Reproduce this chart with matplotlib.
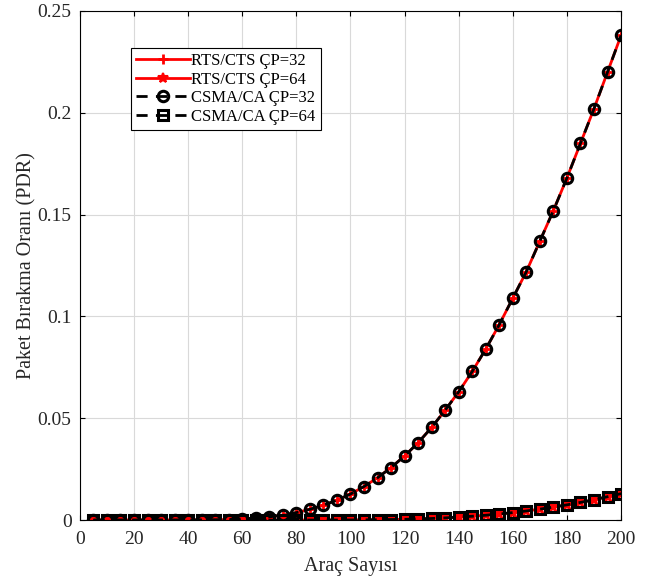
import numpy as np
import matplotlib
matplotlib.use("Agg")
import matplotlib.pyplot as plt

# vehicle counts
arac = list(range(5, 205, 5))

# PDR, CP=32 (RTS/CTS and CSMA/CA overlap)
pdr_32 = [0, 0, 0, 0, 0, 0, 0.00001, 0.00003, 0.00007, 0.00015,
          0.0003, 0.0006, 0.001, 0.0016, 0.0025, 0.0037, 0.0053, 0.0073, 0.0098, 0.0128,
          0.0165, 0.0208, 0.0258, 0.0315, 0.038, 0.0455, 0.054, 0.063, 0.073, 0.084,
          0.096, 0.109, 0.122, 0.137, 0.152, 0.168, 0.185, 0.202, 0.220, 0.238]

# PDR, CP=64
pdr_64 = [0, 0, 0, 0, 0, 0, 0, 0, 0, 0,
          0, 0, 0.00001, 0.00001, 0.00002, 0.00003, 0.00004, 0.00005, 0.00006, 0.00008,
          0.00013, 0.0002, 0.0003, 0.0004, 0.0006, 0.0008, 0.0011, 0.0015, 0.0019, 0.0024,
          0.003, 0.0037, 0.0045, 0.0054, 0.0064, 0.0075, 0.0087, 0.010, 0.0115, 0.013]

plt.rcParams["font.family"] = ["Liberation Serif", "DejaVu Serif"]
plt.rcParams["font.size"] = 12

txt = "#262626"

fig = plt.figure(figsize=(6.6, 5.76), dpi=100)
ax = fig.add_axes([0.121, 0.097, 0.820, 0.884])

ax.plot(arac, pdr_32, color="red", lw=2, marker="+", ms=7, mew=2, label="RTS/CTS ÇP=32")
ax.plot(arac, pdr_64, color="red", lw=2, marker="*", ms=7, mew=1.5, label="RTS/CTS ÇP=64")
ax.plot(arac, pdr_32, color="black", lw=2, ls=(0, (4, 3)), marker="o", ms=7.5, mew=2.2,
        mfc="none", label="CSMA/CA ÇP=32")
ax.plot(arac, pdr_64, color="black", lw=2, ls=(0, (4, 3)), marker="s", ms=6.5, mew=2.2,
        mfc="none", label="CSMA/CA ÇP=64")

ax.set_xlim(0, 200)
ax.set_ylim(0, 0.25)
ax.set_xticks(np.arange(0, 201, 20))
ax.set_yticks([0, 0.05, 0.1, 0.15, 0.2, 0.25])
ax.set_yticklabels(["0", "0.05", "0.1", "0.15", "0.2", "0.25"])
ax.grid(True, color="#d9d9d9", lw=0.8)
ax.set_axisbelow(True)
ax.tick_params(direction="in", top=True, right=True, labelsize=14, labelcolor=txt)
ax.tick_params(axis="x", pad=8)
ax.tick_params(axis="y", pad=6)
ax.set_xlabel("Araç Sayısı", fontsize=14.5, color=txt, labelpad=6)
ax.set_ylabel("Paket Bırakma Oranı (PDR)", fontsize=14.5, color=txt, labelpad=1)

leg = ax.legend(loc="upper left", bbox_to_anchor=(0.095, 0.927), fontsize=12,
                fancybox=False, edgecolor="black", framealpha=1,
                handlelength=3.2, borderpad=0.3, labelspacing=0.15, handletextpad=0.1,
                borderaxespad=0)
leg.get_frame().set_linewidth(0.8)

fig.savefig("out.png", dpi=100)
